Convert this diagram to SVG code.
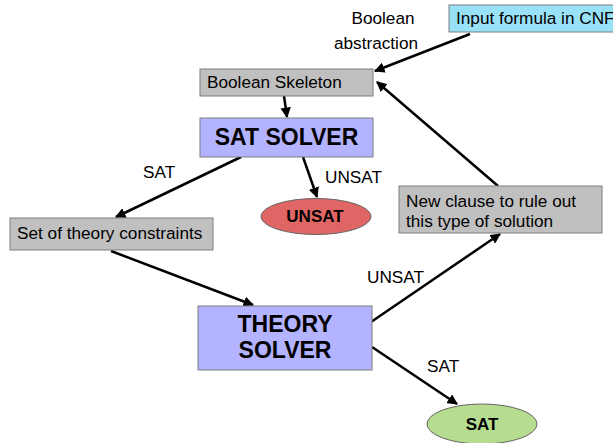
<svg xmlns="http://www.w3.org/2000/svg" width="613" height="443" viewBox="0 0 613 443">
<style>
text{font-family:"Liberation Sans",Arial,sans-serif;fill:#000}
.t{font-size:17.2px}
.b{font-weight:bold}
.box{stroke:#7f7f7f;stroke-width:1}
.grey{fill:#c0c0c0}
.blue{fill:#b3b3ff}
.e{stroke:#666;stroke-width:1}
.c{fill:none;stroke:#000;stroke-width:2.5;marker-end:url(#ah)}
</style>
<defs>
<marker id="ah" viewBox="0 0 10 10" refX="9" refY="5" markerWidth="4.2" markerHeight="4.2" orient="auto" markerUnits="strokeWidth">
<path d="M0,0 L10,5 L0,10 z" fill="#000"/>
</marker>
</defs>
<rect width="613" height="443" fill="#fff"/>
<g id="connectors">
<line class="c" x1="470" y1="34" x2="375" y2="71"/>
<line class="c" x1="498" y1="186" x2="377" y2="82"/>
<line class="c" x1="284" y1="96" x2="287" y2="117"/>
<line class="c" x1="303" y1="157" x2="317" y2="197"/>
<line class="c" x1="241" y1="157" x2="116" y2="217"/>
<line class="c" x1="111" y1="251" x2="253" y2="305"/>
<line class="c" x1="371" y1="322" x2="500" y2="234"/>
<line class="c" x1="372" y1="347" x2="457" y2="404"/>
<text class="t" x="383" y="24" text-anchor="middle">Boolean</text>
<text class="t" x="376" y="49" text-anchor="middle">abstraction</text>
<text class="t" x="143" y="178">SAT</text>
<text class="t" x="325" y="183">UNSAT</text>
<text class="t" x="367" y="283">UNSAT</text>
<text class="t" x="427" y="372">SAT</text>
</g>
<g id="input">
<rect class="box" x="449" y="5" width="170" height="27" fill="#99e1f7"/>
<text class="t" x="456" y="24">Input formula in CNF</text>
</g>
<g id="skeleton">
<rect class="box grey" x="200" y="69" width="173" height="27"/>
<text class="t" x="207" y="88">Boolean Skeleton</text>
</g>
<g id="satsolver">
<rect class="box blue" x="200" y="118" width="173" height="39"/>
<text x="286.5" y="145" text-anchor="middle" class="b" font-size="23">SAT SOLVER</text>
</g>
<g id="unsat">
<ellipse class="e" cx="316" cy="216.5" rx="55" ry="18" fill="#e06666"/>
<text x="315" y="222" text-anchor="middle" class="b" font-size="17">UNSAT</text>
</g>
<g id="theoryset">
<rect class="box grey" x="10" y="218" width="203" height="32"/>
<text class="t" x="17" y="239">Set of theory constraints</text>
</g>
<g id="newclause">
<rect class="box grey" x="399" y="186" width="203" height="47"/>
<text class="t" x="406" y="207">New clause to rule out</text>
<text class="t" x="406" y="227">this type of solution</text>
</g>
<g id="theorysolver">
<rect class="box blue" x="198" y="306" width="174" height="64"/>
<text x="285" y="332" text-anchor="middle" class="b" font-size="23">THEORY</text>
<text x="285" y="358" text-anchor="middle" class="b" font-size="23">SOLVER</text>
</g>
<g id="sat">
<ellipse class="e" cx="482" cy="424" rx="55" ry="20" fill="#b6dd8f"/>
<text x="482" y="430" text-anchor="middle" class="b" font-size="17">SAT</text>
</g>
</svg>
